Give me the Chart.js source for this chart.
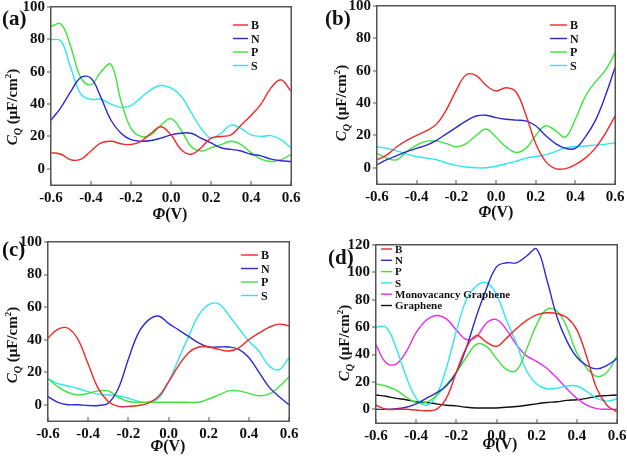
<!DOCTYPE html>
<html>
<head>
<meta charset="utf-8">
<script src="https://cdn.jsdelivr.net/npm/chart.js@4.4.1/dist/chart.umd.min.js"></script>
<style>
body { margin: 0; background: #fff; font-family: 'Liberation Serif', 'Times New Roman', serif; color: #111; }
canvas { position: absolute; }
.letra { position: absolute; font-weight: bold; font-size: 21px; line-height: 1; }
.tituloY { position: absolute; font-weight: bold; font-size: 15px; white-space: nowrap; transform: translate(-50%, -50%) rotate(-90deg); }
.tituloX { position: absolute; font-weight: bold; font-size: 16px; white-space: nowrap; transform: translate(-50%, -50%); }
sub { font-size: 10px; }
sup { font-size: 9px; }
</style>
</head>
<body>
<canvas id="panelA" width="313" height="229" style="left:0;top:0"></canvas>
<canvas id="panelB" width="314" height="229" style="left:313px;top:0"></canvas>
<canvas id="panelC" width="313" height="229" style="left:0;top:230px"></canvas>
<canvas id="panelD" width="314" height="229" style="left:313px;top:230px"></canvas>

<div class="letra" style="left:2px;top:8px">(a)</div>
<div class="letra" style="left:325px;top:8px">(b)</div>
<div class="letra" style="left:2px;top:239px">(c)</div>
<div class="letra" style="left:328px;top:247px">(d)</div>

<div class="tituloY" style="left:13px;top:107px"><i>C</i><sub><i>Q</i></sub> (μF/cm<sup>2</sup>)</div>
<div class="tituloY" style="left:342px;top:103px"><i>C</i><sub><i>Q</i></sub> (μF/cm<sup>2</sup>)</div>
<div class="tituloY" style="left:13px;top:345px"><i>C</i><sub><i>Q</i></sub> (μF/cm<sup>2</sup>)</div>
<div class="tituloY" style="left:345px;top:343px"><i>C</i><sub><i>Q</i></sub> (μF/cm<sup>2</sup>)</div>

<div class="tituloX" style="left:170px;top:214px"><i>Φ</i>(V)</div>
<div class="tituloX" style="left:496px;top:212px"><i>Φ</i>(V)</div>
<div class="tituloX" style="left:168px;top:446px"><i>Φ</i>(V)</div>
<div class="tituloX" style="left:500px;top:444px"><i>Φ</i>(V)</div>

<script>
/* ── DATOS ──
 Potencial (V) común a todas las curvas, paso de 0.05 V */
var potencial = [-0.6, -0.55, -0.5, -0.45, -0.4, -0.35, -0.3, -0.25, -0.2, -0.15, -0.1, -0.05,
    0, 0.05, 0.1, 0.15, 0.2, 0.25, 0.3, 0.35, 0.4, 0.45, 0.5, 0.55, 0.6];

/* Panel (a) */
var aB = [10, 9, 5.5, 6, 11, 16, 17, 15.5, 15, 17, 22, 26, 21, 12, 9, 13, 19, 20, 21, 27, 33, 40, 50, 55, 48];
var aN = [30, 38, 48, 56.5, 56, 44, 30, 22, 18, 17, 17.5, 19, 21, 22, 22, 19, 16, 13, 12, 11, 9, 8, 6, 5, 4.5];
var aP = [88, 89.5, 75, 56, 52, 60, 64.5, 42, 25, 20, 21, 27, 31, 24, 14, 11, 13, 15, 17, 15, 10, 6, 4.5, 5.5, 9];
var aS = [80, 79, 62, 46, 43, 43, 40, 38, 39, 44, 49, 51.5, 50, 45, 35, 25, 19, 22, 27, 25, 21, 20, 20.5, 18, 13];

/* Panel (b) */
var bB = [5, 8, 13, 17, 20, 23, 27, 36, 48, 57.5, 57, 51, 47.5, 49.5, 47, 33, 15, 4, -0.5, -0.5, 2, 6, 12, 21, 32];
var bN = [2, 5, 7.5, 10, 12, 14, 17, 21, 25, 29, 32, 32.5, 31, 30, 29.5, 29, 26, 20, 15, 12, 12, 19, 29, 44, 62];
var bP = [9, 6, 5, 10, 14, 16.5, 16.5, 15, 13, 15, 20, 24, 19, 13, 9.5, 12, 20, 26, 23, 19, 30, 44, 53, 60, 71];
var bS = [13, 12, 10.5, 8.5, 7, 6, 5, 3, 1.5, 0.5, 0, 0, 1, 2.5, 4, 6, 7, 8, 10, 12.5, 13, 13.5, 14, 14.5, 15.5];

/* Panel (c) */
var cB = [41, 46.5, 47, 40, 25, 10, 2, -1, -1, -0.5, 1, 5, 14, 24, 32, 35.5, 35.5, 34, 33, 35, 40, 44, 47.5, 49.5, 48.5];
var cN = [5, 1.5, 0, 0, -0.5, -0.5, 1, 10, 28, 44, 52, 54.5, 50, 46, 42, 38, 35.5, 35.5, 35.5, 34, 29, 20, 11, 5, 0];
var cP = [16, 11, 7.5, 6, 7, 8.5, 8.5, 4.5, 2, 1.5, 1.5, 1.5, 1.5, 1.5, 1.5, 1.5, 3.5, 6, 8.5, 8.5, 7, 5.5, 6.5, 11, 17];
var cS = [16, 13, 11.5, 10, 8, 6.5, 6, 5.5, 4, 2, 1.5, 4, 14, 28, 42, 55, 61.5, 62, 55, 47, 39, 33, 24, 21.5, 29];

/* Panel (d) */
var dB = [3, 0, 0, 0, -0.5, -1, 0, 8, 27, 45, 54, 49, 46, 52, 59, 65, 69, 70.5, 70, 67, 58, 38, 15, 3, -2];
var dN = [0, 0, 0.5, 1.5, 4, 8, 12, 17, 27, 45, 68, 88, 104, 107, 107, 112, 117, 95, 68, 50, 38, 32, 29.5, 32, 37];
var dP = [18.5, 17, 14, 9, 5, 5, 10, 18, 27, 38, 47.5, 46, 37, 29, 28.5, 44, 62, 73, 72, 60, 41, 30, 24, 27, 39];
var dS = [60, 60, 45, 24, 8, 3, 10, 30, 57, 80, 90, 92.5, 84, 65, 48, 28, 18.5, 15, 15.5, 17, 17, 13, 8, 6, 7.5];
var dM = [47, 34, 33, 42, 56, 65, 68.5, 66, 58, 51, 53, 63, 65.5, 58, 47, 39, 35, 30, 23, 15, 8, 3, 0.5, 0, 0];
var dG = [10.5, 9.5, 8, 7, 5.5, 5, 4, 3, 2.5, 1.5, 1, 1, 1, 1.5, 2, 3, 4, 5, 5.5, 6.5, 7, 8, 9.5, 10, 10.5];

/* Colores de cada serie */
var ROJO = '#f02828', AZUL = '#2b2bd0', VERDE = '#3ee43e', CIAN = '#2ee6f0', MAGENTA = '#e62ee6', NEGRO = '#111111';
var GRIS = '#555555';
var FUENTE = "'Liberation Serif', 'Times New Roman', serif";

/* Convierte un array de valores en puntos {x, y} con el potencial */
function puntos(valores) {
    return valores.map(function (v, i) { return { x: potencial[i], y: v }; });
}

function serie(nombre, valores, color) {
    return {
        label: nombre,
        data: puntos(valores),
        borderColor: color,
        backgroundColor: color,
        borderWidth: 1.4,
        pointRadius: 0,
        tension: 0.4,
        fill: false
    };
}

/* ── PLUGIN: marco, marcas y leyenda dentro del área de trazado ── */
var pluginMarco = {
    id: 'marco',
    afterDraw: function (chart, args, opts) {
        var ctx = chart.ctx, a = chart.chartArea;
        var izq = Math.round(a.left), der = Math.round(a.right), arr = Math.round(a.top), abj = Math.round(a.bottom);
        ctx.save();
        ctx.fillStyle = GRIS;
        ctx.fillRect(izq - 1, arr - 1, der - izq + 2, 1.5);
        ctx.fillRect(izq - 1, abj - 0.5, der - izq + 2, 1.5);
        ctx.fillRect(izq - 1, arr - 1, 1.5, abj - arr + 2);
        ctx.fillRect(der - 0.5, arr - 1, 1.5, abj - arr + 2);
        /* Marcas del eje X hacia dentro */
        chart.scales.x.ticks.forEach(function (t) {
            var px = Math.round(chart.scales.x.getPixelForValue(t.value));
            ctx.fillRect(px - 0.5, abj - 4, 1, 4);
        });
        /* Marcas del eje Y hacia fuera */
        chart.scales.y.ticks.forEach(function (t) {
            var py = Math.round(chart.scales.y.getPixelForValue(t.value));
            ctx.fillRect(izq - 4, py - 0.5, 4, 1);
        });
        ctx.restore();

        ctx.save();
        ctx.font = 'bold ' + opts.tam + 'px ' + FUENTE;
        ctx.textBaseline = 'middle';
        chart.data.datasets.forEach(function (ds, i) {
            var y = opts.y + i * opts.fila;
            ctx.strokeStyle = ds.borderColor;
            ctx.lineWidth = 1.4;
            ctx.beginPath(); ctx.moveTo(opts.x, y); ctx.lineTo(opts.x + opts.largo, y); ctx.stroke();
            ctx.fillStyle = '#111';
            ctx.fillText(ds.label, opts.x + opts.largo + 3, y + 1);
        });
        ctx.restore();
    }
};

/* ── FUNCIÓN: crearPanel ──
 Dibuja un panel con su área de trazado fija (izq, arriba, der, abajo en px del canvas) */
function crearPanel(id, series, yMax, area, leyenda) {
    var canvas = document.getElementById(id);
    new Chart(canvas, {
        type: 'line',
        data: { datasets: series },
        plugins: [pluginMarco],
        options: {
            responsive: false,
            animation: false,
            layout: { padding: { left: 0, top: area[1], right: canvas.width - area[2], bottom: 0 } },
            plugins: {
                legend: { display: false },
                tooltip: { enabled: false },
                marco: leyenda
            },
            scales: {
                x: {
                    type: 'linear',
                    min: -0.6, max: 0.6,
                    grid: { display: false, drawTicks: false },
                    border: { display: false },
                    ticks: {
                        stepSize: 0.2,
                        padding: 4,
                        color: '#111',
                        font: { family: FUENTE, size: 15, weight: 'bold' },
                        callback: function (v) { return v.toFixed(1); }
                    },
                    afterFit: function (s) { s.height = canvas.height - area[3]; s.paddingLeft = 0; s.paddingRight = 0; }
                },
                y: {
                    min: -10, max: yMax,
                    grid: { display: false, drawTicks: false },
                    border: { display: false },
                    ticks: {
                        stepSize: 20,
                        includeBounds: false,
                        padding: 6,
                        color: '#111',
                        font: { family: FUENTE, size: 15, weight: 'bold' }
                    },
                    afterFit: function (s) { s.width = area[0]; s.paddingTop = 0; s.paddingBottom = 0; }
                }
            }
        }
    });
}

crearPanel('panelA', [serie('B', aB, ROJO), serie('N', aN, AZUL), serie('P', aP, VERDE), serie('S', aS, CIAN)],
    100, [51, 7, 291, 185], { x: 233, y: 25, fila: 13.5, largo: 15, tam: 12 });
crearPanel('panelB', [serie('B', bB, ROJO), serie('N', bN, AZUL), serie('P', bP, VERDE), serie('S', bS, CIAN)],
    100, [64, 6, 302, 184], { x: 237, y: 25, fila: 13.5, largo: 17, tam: 12 });
crearPanel('panelC', [serie('B', cB, ROJO), serie('N', cN, AZUL), serie('P', cP, VERDE), serie('S', cS, CIAN)],
    100, [48, 12, 289, 191], { x: 241, y: 25, fila: 13.5, largo: 17, tam: 12 });
crearPanel('panelD', [serie('B', dB, ROJO), serie('N', dN, AZUL), serie('P', dP, VERDE), serie('S', dS, CIAN),
    serie('Monovacancy Graphene', dM, MAGENTA), serie('Graphene', dG, NEGRO)],
    120, [63, 15, 304, 193], { x: 68, y: 19, fila: 11.3, largo: 11, tam: 11 });
</script>
</body>
</html>
